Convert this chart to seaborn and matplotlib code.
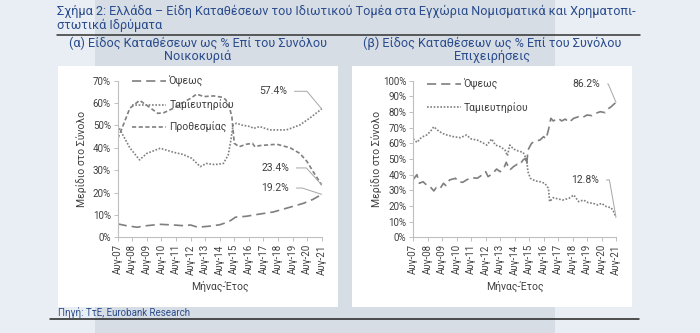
import matplotlib
matplotlib.use('Agg')
import matplotlib.pyplot as plt
import seaborn as sns
import pandas as pd
from matplotlib.patches import Rectangle
from matplotlib.lines import Line2D
from matplotlib.ticker import FuncFormatter

# ---------------- data (months since Aug-07, share %) ----------------
tick_labels = ['Αυγ-07', 'Αυγ-08', 'Αυγ-09', 'Αυγ-10', 'Αυγ-11', 'Αυγ-12', 'Αυγ-13',
               'Αυγ-14', 'Αυγ-15', 'Αυγ-16', 'Αυγ-17', 'Αυγ-18', 'Αυγ-19', 'Αυγ-20', 'Αυγ-21']
series_names = ['Όψεως', 'Ταμιευτηρίου', 'Προθεσμίας']

# (a) Households
hh_sight_m = [0, 7, 16, 24, 35, 46, 54, 60, 66, 76, 84, 89, 93, 97, 106, 117, 128, 139, 153, 161, 168]
hh_sight_v = [6.0, 5.2, 4.5, 5.2, 5.8, 5.5, 5.2, 5.5, 4.5, 5.0, 5.6, 6.5, 7.5, 9.0, 9.4, 10.4, 11.3, 13.0, 15.2, 17.0, 19.2]

hh_sav_m = [0, 3, 10, 18, 24, 35, 46, 54, 61, 68, 73, 80, 87, 91, 93, 95, 98, 102, 109, 112, 117, 125, 139, 150, 158, 168]
hh_sav_v = [50, 47, 40, 34.6, 37.5, 39.8, 38, 37, 35.3, 31.6, 33, 32.5, 33, 36.8, 42.7, 50.2, 51, 50.2, 49.5, 48.7,
            49.5, 48, 48, 50.2, 53.2, 57.4]

hh_time_m = [0, 3, 10, 18, 24, 33, 38, 46, 53, 60, 65, 71, 79, 86, 89, 92, 94, 96, 100, 106, 111, 113, 117, 131,
             142, 150, 156, 161, 168]
hh_time_v = [44, 48, 57.7, 61.2, 59, 55.4, 55.7, 57.7, 60, 62.1, 64, 62.9, 63.2, 62.6, 61.5, 58, 54, 42, 40.5,
             41.6, 42, 40.5, 41, 41.6, 40, 37.5, 33.8, 29.3, 23.4]

# (b) Businesses
bz_sight_m = [0, 3, 5, 8, 11, 14, 17, 19, 22, 25, 27, 30, 35, 37, 41, 44, 48, 53, 57, 60, 62, 66, 69, 72, 75, 77,
              80, 83, 86, 88, 91, 93, 94, 95, 98, 101, 105, 108, 110, 112, 114, 116, 120, 123, 126, 129, 133, 137,
              140, 144, 148, 151, 155, 159, 162, 164, 167, 168]
bz_sight_v = [37, 40, 34.5, 35.5, 33.4, 32.3, 29.6, 31.7, 30.9, 34.5, 33, 36.6, 37.7, 35.5, 35.1, 36.6, 38.1, 37.7,
              39.8, 41.9, 38.7, 40.9, 43.6, 41.9, 44, 47.9, 43, 45.1, 46.6, 46.2, 49.4, 50.4, 46.2, 55.7, 60, 61.5,
              62.1, 64.3, 62.8, 68.5, 76, 74.3, 76, 74.3, 75.5, 73.4, 76, 77, 76.4, 78.1, 77.7, 79.1, 80.2, 79.6,
              82.3, 83.4, 85.5, 86.2]

bz_sav_m = [0, 3, 6, 8, 11, 14, 17, 20, 24, 28, 33, 39, 44, 48, 53, 57, 61, 65, 68, 72, 76, 78, 80, 83, 87, 91,
            94, 95, 97, 101, 105, 109, 112, 113, 116, 120, 124, 129, 133, 137, 141, 145, 149, 153, 156, 160, 164,
            166, 168]
bz_sav_v = [63, 60.6, 63.2, 64.3, 65.3, 67.4, 70.6, 68.5, 66.4, 65.3, 64.3, 63.6, 65.3, 62.8, 62.1, 60.6, 58.9,
            62.8, 58.9, 57.9, 55.7, 52.1, 58.9, 56.4, 55.1, 54.3, 49.4, 41.9, 37.7, 36, 35.5, 34.5, 31.3, 22.8,
            25.3, 24.5, 23.8, 24.9, 27, 22.8, 23.8, 22.1, 21.7, 20.6, 21.7, 19.6, 18.9, 16.4, 12.8]


def long_form(pairs):
    frames = [pd.DataFrame({'Μήνας': m, 'Μερίδιο': v, 'Σειρά': n}) for n, m, v in pairs]
    return pd.concat(frames, ignore_index=True)


df_hh = long_form([(series_names[0], hh_sight_m, hh_sight_v),
                   (series_names[1], hh_sav_m, hh_sav_v),
                   (series_names[2], hh_time_m, hh_time_v)])
df_bz = long_form([(series_names[0], bz_sight_m, bz_sight_v),
                   (series_names[1], bz_sav_m, bz_sav_v)])

# ---------------- style ----------------
sns.set_theme(style='white')
plt.rcParams['font.family'] = ['Roboto', 'DejaVu Sans']

W, H = 700, 333
BLUE = '#2b4c8c'
GREY = '#7f7f7f'
TXT = '#404040'
AX = '#bfbfbf'
dash_map = {series_names[0]: (5.5, 3), series_names[1]: (1, 1), series_names[2]: (2.5, 1.5)}
pal = {n: GREY for n in series_names}

fig = plt.figure(figsize=(W / 100, H / 100), dpi=100)
fig.patch.set_facecolor('#e9eef4')


def fx(x):
    return x / W


def fy(y):
    return 1 - y / H


def rect(x0, y0, x1, y1, color, z=0):
    fig.add_artist(Rectangle((fx(x0), fy(y1)), (x1 - x0) / W, (y1 - y0) / H,
                             transform=fig.transFigure, facecolor=color, edgecolor='none', zorder=z))


rect(95, 0, 555, 333, '#d6dde5', z=0)
rect(58, 66, 338, 307, 'white', z=0.5)
rect(352, 66, 632, 307, 'white', z=0.5)

fig.text(fx(57), fy(11), 'Σχήμα 2: Ελλάδα – Είδη Καταθέσεων του Ιδιωτικού Τομέα στα Εγχώρια Νομισματικά και Χρηματοπι-',
         color=BLUE, fontsize=9.1, va='center', ha='left')
fig.text(fx(57), fy(25.5), 'στωτικά Ιδρύματα', color=BLUE, fontsize=9.1, va='center', ha='left')
fig.add_artist(Line2D([fx(57), fx(640)], [fy(34.5), fy(34.5)], transform=fig.transFigure, color='#333333', lw=1.1))
fig.text(fx(198), fy(43.5), '(α) Είδος Καταθέσεων ως % Επί του Συνόλου', color=BLUE, fontsize=9.1, ha='center', va='center')
fig.text(fx(198), fy(56.5), 'Νοικοκυριά', color=BLUE, fontsize=9.1, ha='center', va='center')
fig.text(fx(492), fy(43.5), '(β) Είδος Καταθέσεων ως % Επί του Συνόλου', color=BLUE, fontsize=9.1, ha='center', va='center')
fig.text(fx(492), fy(56.5), 'Επιχειρήσεις', color=BLUE, fontsize=9.1, ha='center', va='center')
fig.text(fx(58), fy(313), 'Πηγή: ΤτΕ, Eurobank Research', color=BLUE, fontsize=7, ha='left', va='center')
fig.add_artist(Line2D([fx(50), fx(639)], [fy(319), fy(319)], transform=fig.transFigure, color='#222222', lw=1.1))


def make_axes(x0, x1, ytop, ybot):
    ax = fig.add_axes([fx(x0), fy(ybot), (x1 - x0) / W, (ybot - ytop) / H])
    ax.set_facecolor('none')
    ax.set_zorder(2)
    return ax


def style_axes(ax, ymax, ylabel_x):
    ax.set_xlim(0, 168)
    ax.set_ylim(0, ymax)
    ax.set_xticks(range(0, 169, 12))
    ax.set_xticklabels(tick_labels, rotation=90)
    ax.set_yticks(range(0, ymax + 1, 10))
    ax.yaxis.set_major_formatter(FuncFormatter(lambda v, p: f'{v:.0f}%'))
    ax.tick_params(axis='both', bottom=True, left=True, length=3, width=0.7, color=AX,
                   labelsize=7, labelcolor=TXT, pad=2)
    for s in ['top', 'right']:
        ax.spines[s].set_visible(False)
    for s in ['left', 'bottom']:
        ax.spines[s].set_color(AX)
        ax.spines[s].set_linewidth(0.8)
    ax.set_ylabel('Μερίδιο στο Σύνολο', fontsize=7.5, color=TXT)
    ax.set_xlabel('Μήνας-Έτος', fontsize=7.5, color=TXT)
    ax.yaxis.set_label_coords(ylabel_x, 0.5)
    ax.xaxis.set_label_coords(0.5, -0.275)


def annotate(ax, m, v, off, angle):
    ax.annotate(f'{v:.1f}%', xy=(m, v), xytext=off, textcoords='offset pixels',
                ha='center', va='center', fontsize=7.5, color=TXT,
                arrowprops=dict(arrowstyle='-', color='#a6a6a6', lw=0.7, shrinkA=3, shrinkB=0,
                                connectionstyle=f'angle,angleA=0,angleB={angle},rad=0'))


def add_legend(ax, names, anchor):
    handles = [Line2D([], [], color=GREY, lw=1.2, dashes=dash_map[n]) for n in names]
    ax.legend(handles, names, loc='upper left', bbox_to_anchor=anchor, frameon=False,
              fontsize=7.5, handlelength=3.3, handletextpad=0.3, labelspacing=1.15,
              borderpad=0, borderaxespad=0, labelcolor=TXT)


# (a)
ax1 = make_axes(117.7, 321.7, 80.7, 237.3)
sns.lineplot(data=df_hh, x='Μήνας', y='Μερίδιο', hue='Σειρά', style='Σειρά', palette=pal,
             dashes=dash_map, estimator=None, linewidth=1.2, legend=False, ax=ax1)
style_axes(ax1, 70, -0.15)
add_legend(ax1, series_names, (0.069, 1.03))
annotate(ax1, hh_sav_m[-1], hh_sav_v[-1], (-48.7, 17.6), -50)
annotate(ax1, hh_time_m[-1], hh_time_v[-1], (-46.7, 17), -48)
annotate(ax1, hh_sight_m[-1], hh_sight_v[-1], (-46.7, 6.3), -18)

# (b)
ax2 = make_axes(413.3, 616, 80.7, 237.3)
sns.lineplot(data=df_bz, x='Μήνας', y='Μερίδιο', hue='Σειρά', style='Σειρά', palette=pal,
             dashes=dash_map, estimator=None, linewidth=1.2, legend=False, ax=ax2)
style_axes(ax2, 100, -0.155)
add_legend(ax2, series_names[:2], (0.066, 1.012))
annotate(ax2, bz_sight_m[-1], bz_sight_v[-1], (-29.7, 18.3), -67)
annotate(ax2, bz_sav_m[-1], bz_sav_v[-1], (-31, 37.3), -80)

fig.savefig('out.png', dpi=100, facecolor=fig.get_facecolor())
